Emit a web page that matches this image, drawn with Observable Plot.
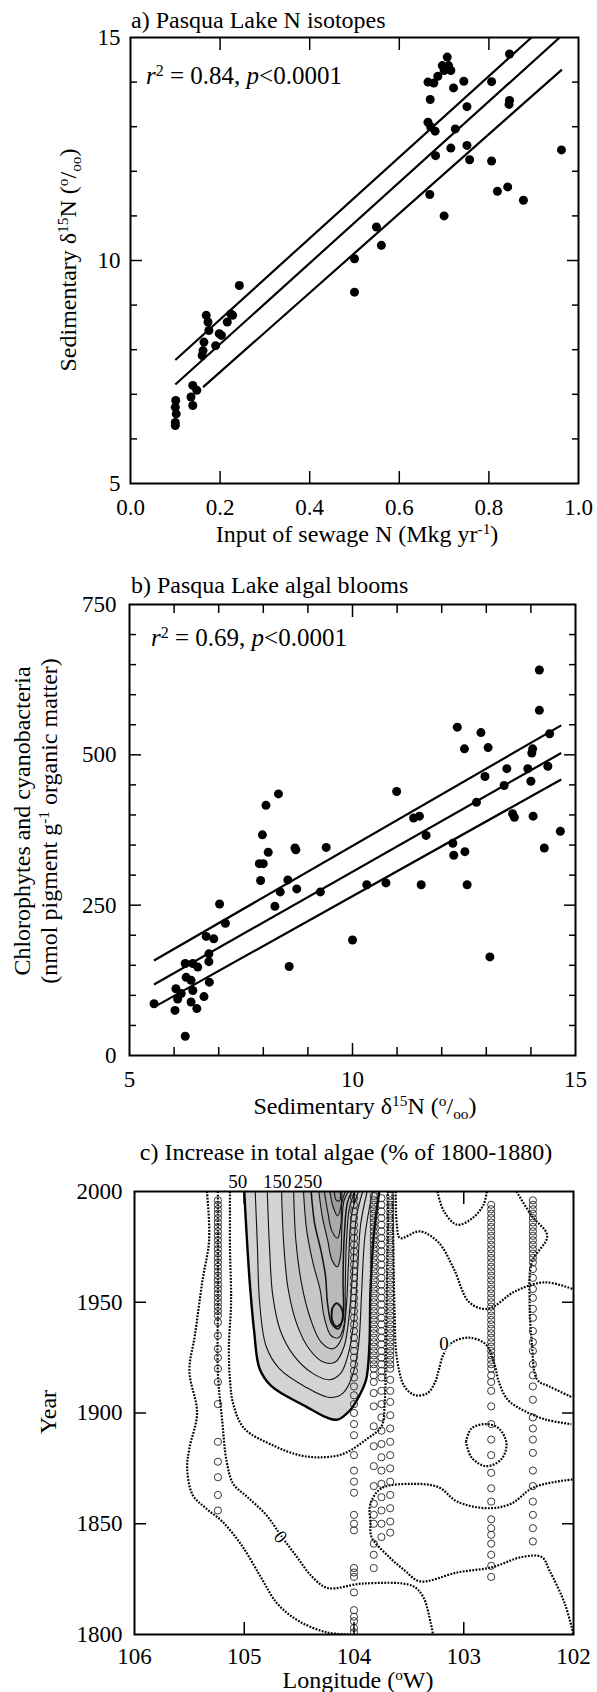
<!DOCTYPE html>
<html><head><meta charset="utf-8">
<script src="https://cdn.jsdelivr.net/npm/d3@7"></script>
<script src="https://cdn.jsdelivr.net/npm/@observablehq/plot@0.6"></script>
<style>
body{margin:0;background:#fff;}
#wrap{position:relative;width:597px;height:1692px;background:#fff;overflow:hidden;}
#wrap svg{position:absolute;left:0;}
</style></head><body><div id="wrap"></div>
<script>
// ---------- Panel a data ----------
const aSewage = [0.10,0.10,0.102,0.10,0.101,0.135,0.139,0.148,0.139,0.16,0.162,0.164,0.19,0.198,0.203,0.216,0.169,0.173,0.175,0.224,0.228,0.243,0.50,0.50,0.549,0.56,0.668,0.70,0.681,0.715,0.751,0.757,0.806,0.819,0.842,0.877,0.962,0.664,0.670,0.68,0.725,0.751,0.846,0.845,0.669,0.664,0.677,0.686,0.70,0.71,0.707,0.715,0.721,0.744,0.806,0.846,0.696];
const aD15N = [6.30,6.37,6.56,6.71,6.86,6.94,6.75,7.09,7.20,7.87,7.98,8.17,8.09,8.36,8.32,8.62,8.77,8.62,8.43,8.80,8.77,9.44,9.29,10.04,10.75,10.34,11.48,11.0,12.35,12.52,12.58,12.26,12.23,11.55,11.65,11.35,12.48,13.10,13.0,12.90,12.95,13.45,13.59,13.5,13.61,14.0,13.98,14.13,14.26,14.37,14.56,14.26,13.87,14.02,14.01,14.63,14.37];
const aFitX1 = [0.10, 0.10, 0.162], aFitY1 = [7.77, 7.22, 7.16];
const aFitX2 = [0.895, 0.958, 0.963], aFitY2 = [15, 15, 14.28];
const aXLabels = [0, 0.2, 0.4, 0.6, 0.8, 1.0];
const aXTicks = [0.2, 0.4, 0.6, 0.8];
const aYLabels = [5, 10, 15];
const aYMinor = [6, 7, 8, 9, 11, 12, 13, 14];
const aYMajor = [10];

// ---------- Panel b data ----------
const bD15N = [14.19,14.19,12.35,12.88,12.51,13.04,14.42,14.04,14.02,13.46,13.93,14.38,12.97,13.40,14.0,10.99,12.78,11.37,11.5,13.59,13.63,14.05,8.06,8.34,14.66,
7.98,8.11,7.91,8.0,7.94,8.71,8.73,9.41,8.55,8.38,8.75,8.26,9.28,10.32,10.75,11.54,11.65,12.25,12.27,12.52,12.57,14.30,10.0,13.08,8.58,
7.02,7.15,6.72,6.89,6.78,6.78,6.25,6.42,6.53,6.27,6.38,6.79,6.04,6.16,6.08,6.42,6.67,6.38,6.51,6.02,5.55,6.25];
const bPigment = [641,574,546,537,510,512,535,510,503,477,477,481,464,449,456,439,421,395,398,402,396,398,416,435,373,
367,338,319,319,291,345,342,346,292,272,277,248,272,284,287,284,366,353,333,339,284,345,192,164,148,
252,220,198,194,169,156,153,153,147,130,125,122,111,103,94,108,98,89,78,75,86,32];
const bFitX1 = [5.55, 5.55, 5.61], bFitY1 = [158, 118, 83];
const bFitX2 = [14.68, 14.68, 14.68], bFitY2 = [549, 503, 459];
const bXLabels = [5, 10, 15];
const bXMinor = [6, 7, 8, 9, 11, 12, 13, 14];
const bXMajor = [10];
const bYLabels = [0, 250, 500, 750];
const bYMinor = [50, 100, 150, 200, 300, 350, 400, 450, 550, 600, 650, 700];
const bYMajor = [250, 500];

// ---------- Panel c data (longitude °W, year) ----------
const cXLabels = [106, 105, 104, 103, 102];
const cXTicks = [105, 104, 103];
const cYLabels = [1800, 1850, 1900, 1950, 2000];
const cYTicks = [1850, 1900, 1950];
// contours inside the shaded area (% increase)
const c50 = [[105.0,2000],[104.98,1982],[104.95,1959],[104.91,1937],[104.86,1920],[104.75,1912],[104.44,1903],[104.25,1898],[104.15,1897],[104.04,1901],[103.96,1907],[103.89,1915],[103.86,1930],[103.85,1955],[103.82,1980],[103.77,2000]];
const c100 = [[104.9,2000],[104.88,1975],[104.86,1950],[104.8,1930],[104.68,1920],[104.45,1912],[104.22,1907],[104.1,1909],[104.02,1916],[103.96,1930],[103.93,1955],[103.9,1980],[103.83,2000]];
const c150 = [[104.79,2000],[104.77,1975],[104.74,1953],[104.67,1937],[104.55,1926],[104.38,1918],[104.22,1915],[104.12,1918],[104.05,1927],[104.0,1942],[103.97,1962],[103.94,1985],[103.88,2000]];
const c200 = [[104.66,2000],[104.64,1976],[104.6,1956],[104.52,1940],[104.41,1929],[104.28,1923],[104.17,1923],[104.09,1930],[104.04,1946],[104.01,1966],[103.98,1988],[103.92,2000]];
const c250 = [[104.55,2000],[104.53,1978],[104.48,1959],[104.4,1943],[104.3,1932],[104.19,1929],[104.11,1934],[104.07,1948],[104.05,1968],[104.02,1990],[103.96,2000]];
const c300 = [[104.46,2000],[104.43,1982],[104.37,1967],[104.31,1956],[104.27,1943],[104.21,1935],[104.14,1934],[104.09,1940],[104.08,1956],[104.07,1976],[104.04,1993],[103.99,2000]];
const c350 = [[104.39,2000],[104.36,1986],[104.3,1973],[104.26,1962],[104.24,1949],[104.2,1940],[104.14,1938],[104.1,1944],[104.1,1960],[104.09,1979],[104.06,1995],[104.02,2000]];
const c400a = [[104.32,2000],[104.29,1989],[104.24,1978],[104.2,1969],[104.15,1966],[104.12,1972],[104.11,1985],[104.09,1996],[104.05,2000]];
const c400b = [[104.2,1947],[104.16,1949.5],[104.11,1947],[104.11,1941],[104.16,1939],[104.2,1942],[104.2,1947]];
const c450 = [[104.27,2000],[104.24,1991],[104.2,1982],[104.15,1979],[104.12,1985],[104.11,1995],[104.08,2000]];
const c500 = [[104.22,2000],[104.19,1993],[104.15,1989],[104.12,1993],[104.11,2000]];
const c550 = [[104.18,2000],[104.16,1996],[104.13,1996],[104.125,2000]];
// dotted contours outside the shaded area
const dA = [[105.34,2000],[105.32,1978],[105.38,1960],[105.45,1935],[105.5,1919],[105.43,1900],[105.5,1884],[105.52,1875],[105.47,1863],[105.35,1857],[105.2,1851],[105.02,1840],[104.85,1826],[104.7,1814],[104.5,1806],[104.25,1801],[104.05,1800]];
const dK = [[105.24,2000],[105.24,1950],[105.24,1918],[105.2,1896],[105.16,1878],[105.1,1868],[104.97,1862],[104.8,1854],[104.67,1845],[104.52,1835],[104.38,1826],[104.24,1821],[103.92,1823],[103.47,1822],[103.37,1817],[103.3,1805],[103.28,1800]];
const dC = [[105.13,2000],[105.13,1975],[105.12,1950],[105.14,1930],[105.13,1915],[105.1,1904],[105.0,1893],[104.72,1885],[104.5,1881],[104.31,1880],[104.1,1881.5],[103.89,1888],[103.75,1894],[103.72,1905],[103.71,1930],[103.70,1960],[103.69,1985],[103.69,2000]];
const dH = [[103.65,2000],[103.64,1970],[103.63,1945],[103.61,1925],[103.54,1912],[103.44,1908],[103.33,1909],[103.26,1914],[103.23,1919],[103.18,1927],[103.1,1932],[102.95,1934],[102.8,1931],[102.72,1922],[102.68,1914],[102.6,1906],[102.45,1901],[102.25,1897],[102.02,1895]];
const dG = [[103.62,2000],[103.61,1985],[103.58,1979],[103.40,1982],[103.23,1977],[103.09,1965],[102.95,1950],[102.78,1947],[102.53,1955],[102.26,1959],[102.01,1956]];
const dF = [[103.24,2000],[103.18,1991],[103.06,1985],[102.92,1988],[102.82,1994],[102.79,2000]];
const dE = [[102.52,2000],[102.38,1989],[102.24,1980],[102.38,1968],[102.4,1950],[102.38,1932],[102.33,1915],[102.22,1912],[102.01,1907]];
const dLoop = [[102.98,1887],[102.93,1893],[102.8,1895],[102.68,1893],[102.61,1886],[102.66,1879],[102.8,1876],[102.93,1880],[102.98,1887]];
const dIJ = [[102.01,1870],[102.36,1866.5],[102.57,1859],[102.78,1857],[103.06,1860],[103.23,1866.5],[103.47,1868],[103.75,1866],[103.85,1859],[103.85,1850],[103.84,1844],[103.68,1835],[103.54,1829],[103.4,1824],[103.06,1828],[102.74,1830.4],[102.47,1835],[102.29,1835],[102.22,1829],[102.08,1814],[102.0,1800]];
// sediment core sample positions
const coreLons = [105.24, 104.0, 103.82, 103.75, 103.67, 102.75, 102.37];
const core1 = [1996,1994,1992,1990,1988,1986,1984,1982,1980,1978,1976,1974,1972,1970,1968,1966,1964,1962,1960,1958,1956,1954,1952,1950,1948,1946,1944,1941,1935,1929,1925,1920,1914,1904,1887,1878,1871,1863,1856];
const core2 = [1997,1994,1991,1988,1985,1982,1979,1976,1973,1970,1967,1964,1961,1958,1955,1952,1949,1946,1943,1940,1937,1934,1931,1928,1925,1922,1919,1916,1912,1908,1904,1900,1895,1890,1881,1874,1869,1864,1854,1850,1847,1830,1828,1826,1819,1811,1808,1806,1803,1801];
const core3 = [1998,1996,1994,1992,1990,1988,1986,1984,1982,1980,1978,1976,1974,1972,1970,1968,1966,1964,1962,1960,1958,1956,1954,1952,1950,1948,1946,1944,1942,1940,1938,1936,1934,1932,1930,1928,1926,1924,1922,1920,1917,1914,1909,1903,1894,1885,1876,1867,1859,1854,1850,1841,1836,1830];
const core4 = [1997,1994,1991,1988,1985,1982,1979,1976,1973,1970,1967,1964,1961,1958,1955,1952,1949,1946,1943,1940,1937,1934,1931,1928,1925,1922,1919,1916,1910,1904,1898,1892,1886,1880,1874,1868,1862,1856,1850,1844];
const core5 = [1998,1996,1994,1992,1990,1988,1986,1984,1982,1980,1978,1976,1974,1972,1970,1968,1966,1964,1962,1960,1958,1956,1954,1952,1950,1948,1946,1944,1942,1940,1938,1936,1934,1932,1930,1928,1926,1924,1922,1920,1915,1910,1905,1899,1893,1887,1881,1875,1869,1863,1857,1851,1846];
const core6 = [1994,1992,1990,1988,1986,1984,1982,1980,1978,1976,1974,1972,1970,1968,1966,1964,1962,1960,1958,1956,1954,1952,1950,1948,1946,1944,1942,1940,1938,1936,1934,1932,1930,1928,1926,1924,1922,1920,1917,1914,1910,1903,1895,1888,1881,1873,1866,1860,1852,1848,1845,1841,1836,1831,1826];
const core7 = [1996,1994,1992,1990,1988,1986,1984,1982,1980,1978,1976,1974,1972,1970,1968,1965,1961,1956,1952,1947,1943,1937,1932,1928,1922,1917,1912,1906,1898,1893,1888,1882,1874,1867,1860,1854,1848,1842];
const coreYears = [core1, core2, core3, core4, core5, core6, core7];
const cTopLabelLon = [105.06, 104.70, 104.42];
const cTopLabelText = ["50", "150", "250"];
const cZeroLon = [103.18, 104.67];
const cZeroYear = [1931, 1844];
const cZeroRotate = [0, 50];

// ---------- helpers ----------
const FONT = "'Liberation Serif', 'Times New Roman', serif";
const wrap = document.getElementById("wrap");
const baseStyle = {fontFamily: FONT, fontSize: "23px", color: "black", background: "transparent", overflow: "visible"};
function place(svg, top) { svg.style.top = top + "px"; wrap.appendChild(svg); }
function rich(svg, x, y, parts, {anchor = "start", size = 24, rotate = 0} = {}) {
  const t = d3.select(svg).append("text")
    .attr("transform", `translate(${x},${y}) rotate(${rotate})`)
    .attr("text-anchor", anchor).attr("font-size", size)
    .attr("font-family", FONT).attr("fill", "black");
  let shift = 0;
  for (const [s, kind] of parts) {
    const target = kind === "sup" ? -0.32 * size : kind === "sub" ? 0.2 * size : 0;
    const ts = t.append("tspan").text(s);
    if (target !== shift) ts.attr("dy", target - shift);
    shift = target;
    if (kind === "sup" || kind === "sub") ts.attr("font-size", size * 0.64);
    if (kind === "it") ts.attr("font-style", "italic");
  }
  return t;
}
const blank = () => "";
function ticksX(anchor, ticks, size) { return Plot.axisX({anchor, ticks, tickSize: -size, tickFormat: blank, label: null, strokeWidth: 1.5}); }
function ticksY(anchor, ticks, size) { return Plot.axisY({anchor, ticks, tickSize: -size, tickFormat: blank, label: null, strokeWidth: 1.5}); }
const idx = (arr) => arr.map((_, i) => i);

// ---------- Panel a ----------
const svgA = Plot.plot({
  width: 597, height: 560, marginLeft: 130, marginRight: 19, marginTop: 37, marginBottom: 77,
  x: {domain: [0, 1]}, y: {domain: [5, 15]}, style: baseStyle,
  marks: [
    Plot.link(idx(aFitX1), {x1: i => aFitX1[i], y1: i => aFitY1[i], x2: i => aFitX2[i], y2: i => aFitY2[i], stroke: "black", strokeWidth: 2.2, clip: true}),
    Plot.dot(idx(aSewage), {x: i => aSewage[i], y: i => aD15N[i], r: 4.5, fill: "black", stroke: "none"}),
    Plot.axisX({anchor: "bottom", ticks: aXLabels, tickSize: 0, tickPadding: 15.5, tickFormat: d3.format(".1f"), label: null}),
    ticksX("bottom", aXTicks, 12), ticksX("top", aXTicks, 12),
    Plot.axisY({anchor: "left", ticks: aYLabels, tickSize: 0, tickPadding: 10, label: null}),
    ticksY("left", aYMinor, 7), ticksY("left", aYMajor, 12),
    ticksY("right", aYMinor, 7), ticksY("right", aYMajor, 12),
    Plot.frame({stroke: "black", strokeWidth: 2})
  ]
});
place(svgA, 0);
rich(svgA, 131, 28, [["a) Pasqua Lake N isotopes"]]);
rich(svgA, 146, 84, [["r", "it"], ["2", "sup"], [" = 0.84, "], ["p", "it"], ["<0.0001"]], {size: 25});
rich(svgA, 357, 542, [["Input of sewage N (Mkg yr"], ["-1", "sup"], [")"]], {anchor: "middle"});
rich(svgA, 76, 260, [["Sedimentary δ"], ["15", "sup"], ["N ("], ["o", "sup"], ["/"], ["oo", "sub"], [")"]], {anchor: "middle", rotate: -90});

// ---------- Panel b ----------
const svgB = Plot.plot({
  width: 597, height: 560, marginLeft: 129, marginRight: 22, marginTop: 44, marginBottom: 65,
  x: {domain: [5, 15]}, y: {domain: [0, 750]}, style: baseStyle,
  marks: [
    Plot.link(idx(bFitX1), {x1: i => bFitX1[i], y1: i => bFitY1[i], x2: i => bFitX2[i], y2: i => bFitY2[i], stroke: "black", strokeWidth: 2.2}),
    Plot.dot(idx(bD15N), {x: i => bD15N[i], y: i => bPigment[i], r: 4.5, fill: "black", stroke: "none"}),
    Plot.axisX({anchor: "bottom", ticks: bXLabels, tickSize: 0, tickPadding: 15, label: null}),
    ticksX("bottom", bXMinor, 8), ticksX("bottom", bXMajor, 12),
    ticksX("top", bXMinor, 8), ticksX("top", bXMajor, 12),
    Plot.axisY({anchor: "left", ticks: bYLabels, tickSize: 0, tickPadding: 13, label: null}),
    ticksY("left", bYMinor, 7), ticksY("left", bYMajor, 12),
    ticksY("right", bYMinor, 7), ticksY("right", bYMajor, 12),
    Plot.frame({stroke: "black", strokeWidth: 2})
  ]
});
place(svgB, 560);
rich(svgB, 131, 33, [["b) Pasqua Lake algal blooms"]]);
rich(svgB, 151, 86, [["r", "it"], ["2", "sup"], [" = 0.69, "], ["p", "it"], ["<0.0001"]], {size: 25});
rich(svgB, 365, 554, [["Sedimentary δ"], ["15", "sup"], ["N ("], ["o", "sup"], ["/"], ["oo", "sub"], [")"]], {anchor: "middle"});
rich(svgB, 30, 261, [["Chlorophytes and cyanobacteria"]], {anchor: "middle", rotate: -90});
rich(svgB, 57, 261, [["(nmol pigment g"], ["-1", "sup"], [" organic matter)"]], {anchor: "middle", rotate: -90});

// ---------- Panel c ----------
const shaded = [[c50, "#d3d3d3"], [c200, "#c7c7c7"], [c300, "#bababa"], [c400a, "#ababab"], [c400b, "#b0b0b0"], [c500, "#9c9c9c"]];
const innerLines = [[c100, 1.1], [c150, 1.1], [c200, 1.1], [c250, 1.1], [c300, 1.1], [c350, 1.5], [c400a, 1.1], [c450, 1.1], [c500, 1.1], [c550, 1.1]];
const dotted = [dA, dK, dC, dH, dG, dF, dE, dLoop, dIJ];
const cores = coreYears.flatMap((ys, k) => ys.map(y => ({lon: coreLons[k], year: y})));
const P = {x: d => d[0], y: d => d[1], curve: "catmull-rom", clip: true};
const svgC = Plot.plot({
  width: 597, height: 572, marginLeft: 134, marginRight: 24, marginTop: 71, marginBottom: 58,
  x: {domain: [106, 102]}, y: {domain: [1800, 2000]}, style: baseStyle,
  marks: [
    ...shaded.map(([pts, col]) => Plot.line(pts, {...P, fill: col, stroke: "none"})),
    ...innerLines.map(([pts, w]) => Plot.line(pts, {...P, stroke: "#111", strokeWidth: w})),
    Plot.line(c400b, {...P, stroke: "#111", strokeWidth: 2}),
    ...dotted.map(pts => Plot.line(pts, {...P, stroke: "#000", strokeWidth: 2.2, strokeDasharray: "1.8,1.4", strokeLinecap: "butt"})),
    Plot.line(c50, {...P, stroke: "black", strokeWidth: 2.4}),
    Plot.dot(cores, {x: "lon", y: "year", r: 3.6, stroke: "#222", strokeWidth: 0.9, fill: "none", clip: true}),
    Plot.text(idx(cZeroLon), {x: i => cZeroLon[i], y: i => cZeroYear[i], text: () => "0", rotate: i => cZeroRotate[i], fontSize: 19, fill: "black", stroke: "white", strokeWidth: 3}),
    Plot.text(idx(cTopLabelLon), {x: i => cTopLabelLon[i], y: 2000, text: i => cTopLabelText[i], dy: -10, fontSize: 19, fill: "black"}),
    Plot.axisX({anchor: "bottom", ticks: cXLabels, tickSize: 0, tickPadding: 13, tickFormat: d3.format("d"), label: null}),
    ticksX("bottom", cXTicks, 12), ticksX("top", cXTicks, 12),
    Plot.axisY({anchor: "left", ticks: cYLabels, tickSize: 0, tickPadding: 12, tickFormat: d3.format("d"), label: null}),
    ticksY("left", cYTicks, 12), ticksY("right", cYTicks, 12),
    Plot.frame({stroke: "black", strokeWidth: 2})
  ]
});
place(svgC, 1120);
rich(svgC, 346, 40, [["c) Increase in total algae (% of 1800-1880)"]], {anchor: "middle"});
rich(svgC, 56, 292, [["Year"]], {anchor: "middle", rotate: -90});
rich(svgC, 358, 568, [["Longitude ("], ["o", "sup"], ["W)"]], {anchor: "middle"});
</script></body></html>
